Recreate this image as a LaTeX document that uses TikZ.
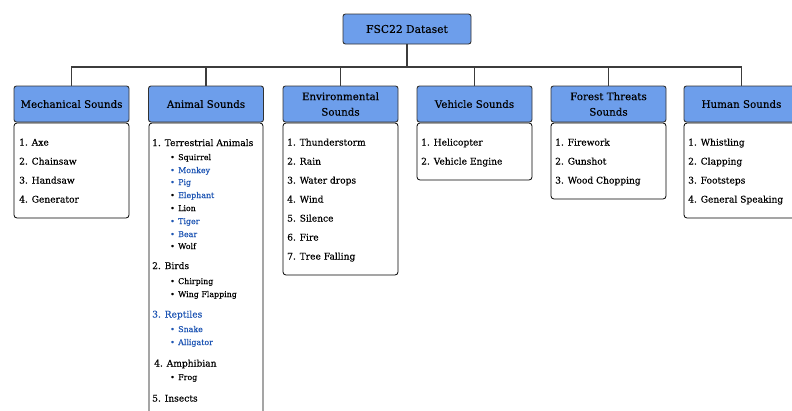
\documentclass[tikz,border=0pt]{standalone}
\usepackage{fontspec}
\setmainfont{DejaVu Serif}[FakeBold=0.25]
\definecolor{hdrfill}{RGB}{109,158,235}
\definecolor{hdrdraw}{RGB}{50,50,50}
\definecolor{linkc}{RGB}{60,60,60}
\definecolor{blu}{RGB}{30,85,180}
\begin{document}
\begin{tikzpicture}[x=1pt,y=-1pt,
  hdr/.style={draw=hdrdraw, fill=hdrfill, rounded corners=2.5pt, line width=0.9pt,
    minimum width=115pt, minimum height=36pt, inner sep=0pt, align=center,
    font=\fontsize{10.3}{15.5}\selectfont},
  listbox/.style={draw=black, fill=white, rounded corners=3pt, line width=0.8pt},
  itm/.style={anchor=base west, inner sep=0pt, font=\fontsize{9.1}{10}\selectfont},
  sub/.style={anchor=base west, inner sep=0pt, font=\fontsize{7.9}{9}\selectfont},
  link/.style={draw=linkc, line width=1.1pt}
]
\useasboundingbox (0,0) rectangle (792,410);
\clip (0,0) rectangle (792,410);
% top node
\node[hdr, minimum width=128pt, minimum height=30pt, font=\fontsize{10.7}{13}\selectfont] (top) at (407,29) {FSC22 Dataset};
\coordinate (busy) at (0,67);
% headers
\node[hdr] (mech) at (71.5,104) {Mechanical Sounds};
\node[hdr] (anim) at (206,104) {Animal Sounds};
\node[hdr] (env) at (340.5,104) {Environmental\\Sounds};
\node[hdr] (veh) at (474.5,104) {Vehicle Sounds};
\node[hdr] (for) at (608.5,104) {Forest Threats\\Sounds};
\node[hdr] (hum) at (741.5,104) {Human Sounds};
% connectors
\foreach \n in {mech,anim,env,veh,for,hum}
  \draw[link] (top.south) |- (busy -| \n.north) -- (\n.north);
% list boxes
\draw[listbox] (14,123) rectangle (129,218) coordinate (mechbox);
\draw[listbox] (149,123) rectangle (263,430) coordinate (animbox);
\draw[listbox] (283,123) rectangle (398,275) coordinate (envbox);
\draw[listbox] (417,123) rectangle (532,180) coordinate (vehbox);
\draw[listbox] (551,123) rectangle (666,199) coordinate (forbox);
\draw[listbox] (684,123) rectangle (799,218) coordinate (humbox);
% mechanical
\node[itm] (m1) at (19,145.5) {1. Axe};
\node[itm] (m2) at (19,164.5) {2. Chainsaw};
\node[itm] (m3) at (19,183.5) {3. Handsaw};
\node[itm] (m4) at (19,202.5) {4. Generator};
% animal
\node[itm] (a1) at (152,146) {1. Terrestrial Animals};
\node[sub] (a11) at (170,160) {\makebox[8pt][l]{•}Squirrel};
\node[sub, text=blu] (a12) at (170,173) {\makebox[8pt][l]{•}Monkey};
\node[sub, text=blu] (a13) at (170,185) {\makebox[8pt][l]{•}Pig};
\node[sub] (a14) at (170,198) {\makebox[8pt][l]{•}\textcolor{blu}{Elephant}};
\node[sub] (a15) at (170,211) {\makebox[8pt][l]{•}Lion};
\node[sub, text=blu] (a16) at (170,224) {\makebox[8pt][l]{•}Tiger};
\node[sub, text=blu] (a17) at (170,237) {\makebox[8pt][l]{•}Bear};
\node[sub] (a18) at (170,249) {\makebox[8pt][l]{•}Wolf};
\node[itm] (a2) at (152,269) {2. Birds};
\node[sub] (a21) at (170,284) {\makebox[8pt][l]{•}Chirping};
\node[sub] (a22) at (170,297) {\makebox[8pt][l]{•}Wing Flapping};
\node[itm, text=blu] (a3) at (152,317.5) {3. Reptiles};
\node[sub, text=blu] (a31) at (170,332) {\makebox[8pt][l]{•}Snake};
\node[sub, text=blu] (a32) at (170,345) {\makebox[8pt][l]{•}Alligator};
\node[itm] (a4) at (154,366.5) {4. Amphibian};
\node[sub] (a41) at (170,380) {\makebox[8pt][l]{•}Frog};
\node[itm] (a5) at (152,401.5) {5. Insects};
% environmental
\node[itm] (e1) at (287,145.5) {1. Thunderstorm};
\node[itm] (e2) at (287,164.5) {2. Rain};
\node[itm] (e3) at (287,183.5) {3. Water drops};
\node[itm] (e4) at (287,202.5) {4. Wind};
\node[itm] (e5) at (287,221.5) {5. Silence};
\node[itm] (e6) at (287,240.5) {6. Fire};
\node[itm] (e7) at (287,259.5) {7. Tree Falling};
% vehicle
\node[itm] (v1) at (421,145.5) {1. Helicopter};
\node[itm] (v2) at (421,164.5) {2. Vehicle Engine};
% forest
\node[itm] (f1) at (555,145.5) {1. Firework};
\node[itm] (f2) at (555,164.5) {2. Gunshot};
\node[itm] (f3) at (555,183.5) {3. Wood Chopping};
% human
\node[itm] (h1) at (688,145.5) {1. Whistling};
\node[itm] (h2) at (688,164.5) {2. Clapping};
\node[itm] (h3) at (688,183.5) {3. Footsteps};
\node[itm] (h4) at (688,202.5) {4. General Speaking};
\end{tikzpicture}
\end{document}
